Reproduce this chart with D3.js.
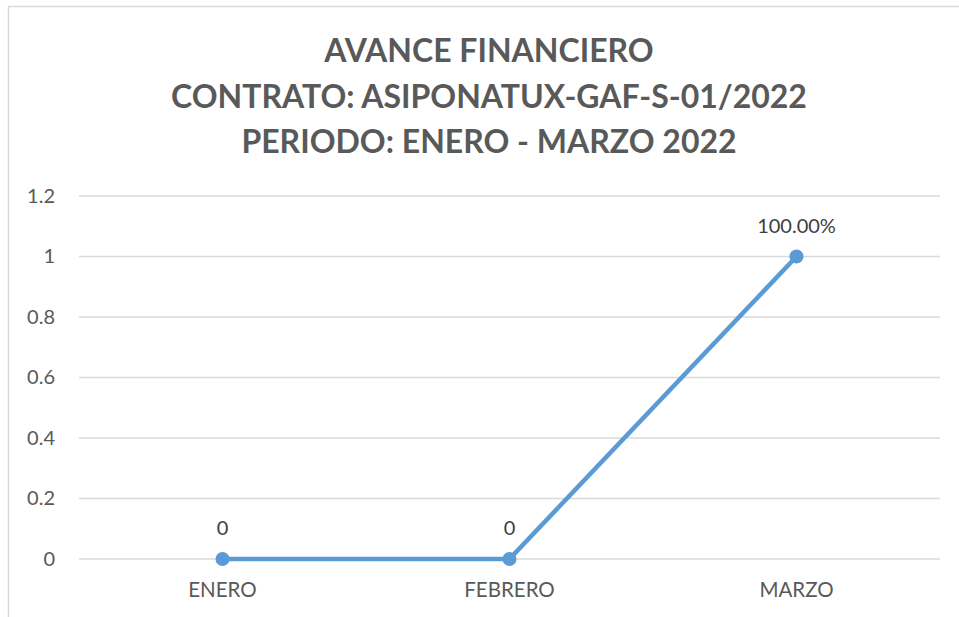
<!DOCTYPE html>
<html>
<head>
<meta charset="utf-8">
<script src="https://cdn.jsdelivr.net/npm/d3@7"></script>
<style>
  body { margin: 0; background: #fff; }
  svg { display: block; font-family: Lato, "Open Sans", sans-serif; }
</style>
</head>
<body>
<svg id="chart" width="959" height="617"></svg>
<script>
// 数据
const meses = ["ENERO", "FEBRERO", "MARZO"];
const avance = [0, 0, 1];
const etiquetas = ["0", "0", "100.00%"];
const yTicks = [0, 0.2, 0.4, 0.6, 0.8, 1, 1.2];
const titulo = [
    "AVANCE FINANCIERO",
    "CONTRATO: ASIPONATUX-GAF-S-01/2022",
    "PERIODO: ENERO - MARZO 2022"
];

const svg = d3.select("#chart");
const width = 959, height = 617;
const margin = { top: 196, right: 19, bottom: 58, left: 79 };

// 外框
svg.append("rect")
    .attr("x", 8.5).attr("y", 6.5)
    .attr("width", 1000).attr("height", 700)
    .attr("fill", "#fff")
    .attr("stroke", "#d9d9d9")
    .attr("stroke-width", 1.5);

// 标题
svg.append("text")
    .attr("text-anchor", "middle")
    .style("font-weight", "bold")
    .style("font-size", "32px")
    .style("fill", "#595959")
    .selectAll("tspan")
    .data(titulo)
    .enter()
    .append("tspan")
    .attr("x", 489)
    .attr("y", (d, i) => 62 + i * 45.5)
    .text(d => d);

const x = d3.scaleBand()
    .domain(meses)
    .range([margin.left, width - margin.right]);

const y = d3.scaleLinear()
    .domain([0, 1.2])
    .range([height - margin.bottom, margin.top]);

// 网格线
svg.append("g")
    .selectAll("line")
    .data(yTicks)
    .enter()
    .append("line")
    .attr("x1", margin.left)
    .attr("x2", width - margin.right)
    .attr("y1", d => y(d))
    .attr("y2", d => y(d))
    .attr("stroke", "#d9d9d9")
    .attr("stroke-width", 1.5);

// Y轴
const yAxis = svg.append("g")
    .attr("transform", `translate(${margin.left},0)`)
    .call(d3.axisLeft(y).tickValues(yTicks).tickFormat(d3.format("")).tickSize(0).tickPadding(24));
yAxis.select(".domain").remove();
yAxis.selectAll("text")
    .style("font-family", "Lato, 'Open Sans', sans-serif")
    .style("font-size", "20px")
    .style("fill", "#595959");

// X轴
const xAxis = svg.append("g")
    .attr("transform", `translate(0,${height - margin.bottom})`)
    .call(d3.axisBottom(x).tickSize(0).tickPadding(23));
xAxis.select(".domain").remove();
xAxis.selectAll("text")
    .style("font-family", "Lato, 'Open Sans', sans-serif")
    .style("font-size", "20.5px")
    .style("fill", "#595959");

const cx = d => x(d) + x.bandwidth() / 2;

// 折线
const line = d3.line()
    .x((d, i) => cx(meses[i]))
    .y(d => y(d));

svg.append("path")
    .datum(avance)
    .attr("d", line)
    .attr("fill", "none")
    .attr("stroke", "#5b9bd5")
    .attr("stroke-width", 4.5)
    .attr("stroke-linejoin", "round");

svg.append("g")
    .selectAll("circle")
    .data(avance)
    .enter()
    .append("circle")
    .attr("cx", (d, i) => cx(meses[i]))
    .attr("cy", d => y(d))
    .attr("r", 7)
    .attr("fill", "#5b9bd5");

// 数据标签
svg.append("g")
    .selectAll("text")
    .data(avance)
    .enter()
    .append("text")
    .attr("x", (d, i) => cx(meses[i]))
    .attr("y", d => y(d) - 24)
    .attr("text-anchor", "middle")
    .style("font-size", "20px")
    .style("fill", "#404040")
    .text((d, i) => etiquetas[i]);
</script>
</body>
</html>
